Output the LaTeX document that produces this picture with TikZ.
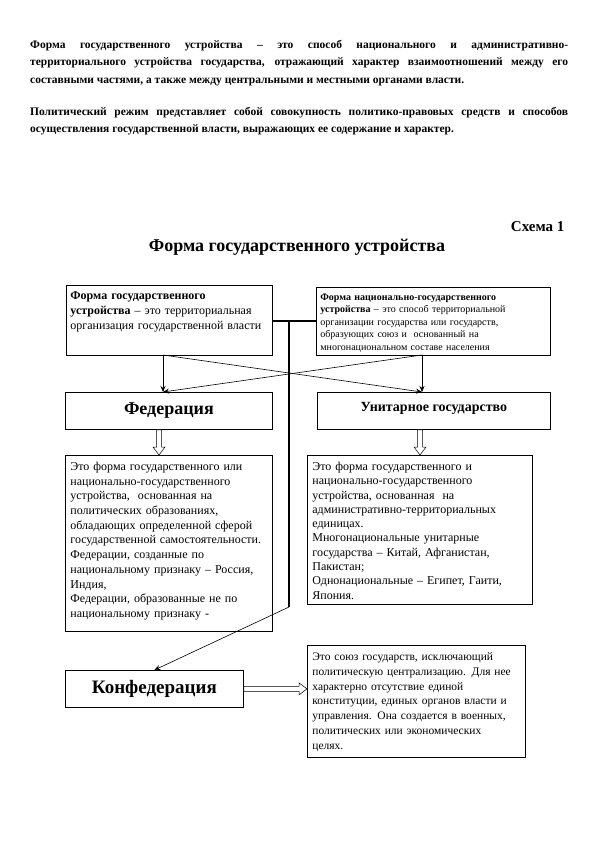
\documentclass[tikz,border=0pt]{standalone}
\usepackage{fontspec}
\setmainfont{Liberation Serif}
\usepackage{tikz}
\usetikzlibrary{arrows.meta,positioning,calc}

\begin{document}
\begin{tikzpicture}[
    x=1pt, y=-1pt,
    every node/.style={font=\fontsize{12}{14.8}\selectfont},
    topbox/.style={
      rectangle, draw, line width=0.8pt, anchor=north west,
      inner sep=4pt, align=left
    },
    headbox/.style={
      rectangle, draw, line width=0.8pt, anchor=north west, align=center
    },
    descbox/.style={
      rectangle, draw, line width=0.8pt, anchor=north west,
      inner sep=5pt, align=left, text height=10pt
    },
    arr/.style={-{Stealth[length=6pt,width=5pt]}, line width=0.6pt},
    hollowarr/.style={
      draw, fill=white, line width=0.5pt,
      to path={
        ($(\tikztostart)!2.5pt!90:(\tikztotarget)$)
        -- ($($(\tikztotarget)!8pt!(\tikztostart)$)!2.5pt!90:(\tikztotarget)$)
        -- ($($(\tikztotarget)!8pt!(\tikztostart)$)!6pt!90:(\tikztotarget)$)
        -- (\tikztotarget)
        -- ($($(\tikztotarget)!8pt!(\tikztostart)$)!6pt!-90:(\tikztotarget)$)
        -- ($($(\tikztotarget)!8pt!(\tikztostart)$)!2.5pt!-90:(\tikztotarget)$)
        -- ($(\tikztostart)!2.5pt!-90:(\tikztotarget)$) -- cycle
      }
    }
  ]
    \useasboundingbox (0,0) rectangle (595,842);

    % ── Definitions at the top of the page ──
    \node[anchor=north west, inner sep=0pt, text width=538pt, align=justify,
          font=\bfseries\fontsize{11.5}{17.5}\selectfont] (def1) at (30,40)
      {Форма государственного устройства – это способ национального и административно-\linebreak
       территориального устройства государства, отражающий характер взаимоотношений между его\linebreak
       составными частями, а также между центральными и местными органами власти.};
    \node[anchor=north west, inner sep=0pt, text width=538pt, align=justify,
          font=\bfseries\fontsize{11.5}{17.5}\selectfont] (def2) at (30,107)
      {Политический режим представляет собой совокупность политико-правовых средств и способов\linebreak
       осуществления государственной власти, выражающих ее содержание и характер.};

    % ── Heading ──
    \node[anchor=east, font=\bfseries\fontsize{15}{17}\selectfont] (scheme) at (568,227) {Схема 1};
    \node[font=\bfseries\fontsize{18}{20}\selectfont] (title) at (297,247) {Форма государственного устройства};

    % ── Top definitions ──
    \node[topbox, text width=198pt, text height=10pt, text depth=52pt,
          font=\fontsize{12}{15}\selectfont] (formA) at (66,285)
      {\textbf{Форма государственного}\\\textbf{устройства} – это территориальная\\организация государственной власти};
    \node[topbox, text width=226pt, text height=9pt, text depth=51pt,
          font=\fontsize{10}{12.5}\selectfont] (formB) at (316,287)
      {\textbf{Форма национально-государственного}\\\textbf{устройства} – это способ территориальной\\организации государства или государств,\\образующих союз и~ основанный на\\многонациональном составе населения};

    % ── Kinds of state ──
    \node[headbox, minimum width=207pt, minimum height=37pt,
          font=\bfseries\fontsize{18}{20}\selectfont] (fed) at (65,392) {Федерация};
    \node[headbox, minimum width=233pt, minimum height=37pt, text depth=8pt,
          font=\bfseries\fontsize{14}{16}\selectfont] (unit) at (317,392) {Унитарное государство};
    \node[headbox, minimum width=178pt, minimum height=37pt,
          font=\bfseries\fontsize{19}{21}\selectfont] (conf) at (65,670) {Конфедерация};

    % ── Descriptions ──
    \node[descbox, text width=197pt, text depth=156pt,
          font=\fontsize{12}{14.7}\selectfont] (fedtxt) at (65,455)
      {Это форма государственного или\\национально-государственного\\устройства,~ основанная на\\политических образованиях,\\обладающих определенной сферой\\государственной самостоятельности.\\Федерации, созданные по\\национальному признаку – Россия,\\Индия,\\Федерации, образованные не по\\национальному признаку -};
    \node[descbox, text width=215pt, text depth=129pt,
          font=\fontsize{12}{14.3}\selectfont] (unittxt) at (307,455)
      {Это форма государственного и\\национально-государственного\\устройства, основанная~ на\\административно-территориальных\\единицах.\\Многонациональные унитарные\\государства – Китай, Афганистан,\\Пакистан;\\Однонациональные – Египет, Гаити,\\Япония.};
    \node[descbox, text width=208pt, text depth=92pt,
          font=\fontsize{11.5}{14.8}\selectfont] (conftxt) at (307,645)
      {Это союз государств, исключающий\\политическую централизацию. Для нее\\характерно отсутствие единой\\конституции, единых органов власти и\\управления. Она создается в военных,\\политических или экономических\\целях.};

    % ── Connectors ──
    \coordinate (jn) at (289,321);
    \coordinate (bend) at (289,607);
    \coordinate (aa) at (163,355);
    \coordinate (bb) at (422,355);
    \coordinate (fx) at (159,0);
    \coordinate (ux) at (420,0);

    \draw[line width=1.2pt] (formA.east |- jn) -- (formB.west |- jn);
    \draw[line width=1.2pt] (jn) -- (bend);
    \draw[arr] (bend) -- (conf.north);

    \draw[arr] (aa) -- (aa |- fed.north);
    \draw[arr] (aa) -- (bb |- unit.north);
    \draw[arr] (bb) -- (bb |- unit.north);
    \draw[arr] (bb) -- (aa |- fed.north);

    \path[hollowarr] (fed.south -| fx) to (fedtxt.north -| fx);
    \path[hollowarr] (unit.south -| ux) to (unittxt.north -| ux);
    \path[hollowarr] (conf.east) to (conf.east -| conftxt.west);

  \end{tikzpicture}
\end{document}
